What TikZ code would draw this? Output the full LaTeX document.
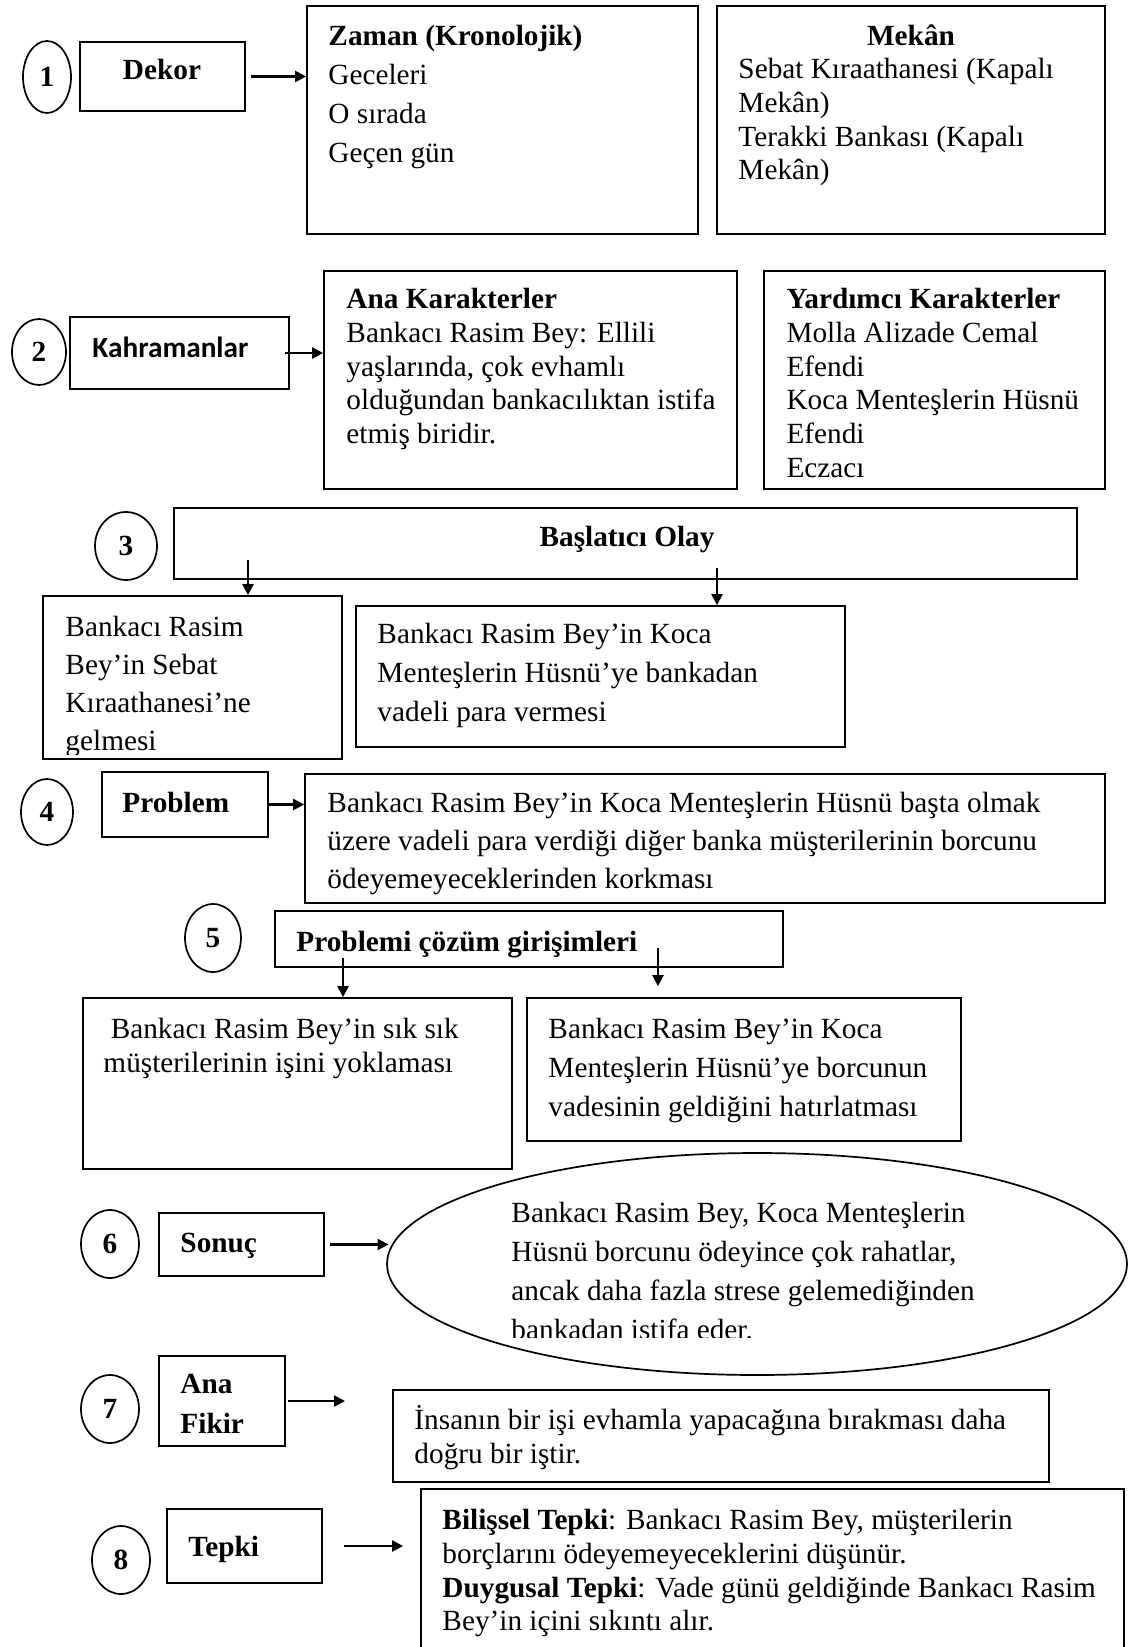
\documentclass[tikz,border=0pt]{standalone}
\usepackage{fontspec}
\setmainfont{Liberation Serif}
\newfontfamily\calfont{Carlito}
\usetikzlibrary{arrows.meta, positioning, shapes.geometric, fit}

\newcommand{\pxl}[1]{#1*0.41pt}

\begin{document}
\begin{tikzpicture}[x=0.41pt, y=-0.41pt,
  box/.style={draw, line width=0.7pt, rectangle, inner sep=0pt},
  numc/.style={draw, ellipse, line width=0.7pt, inner sep=0pt, font=\bfseries\fontsize{12}{14}\selectfont},
  txt/.style={anchor=north west, inner sep=0pt, align=left, font=\fontsize{12}{15.9}\selectfont,
    execute at begin node={\rule{0pt}{11pt}}},
  head/.style={anchor=base, inner sep=0pt, font=\bfseries\fontsize{12}{15.9}\selectfont},
  arr/.style={-{Triangle[length=4.5pt,width=4.5pt]}, line width=0.9pt}]
\useasboundingbox (0,0) rectangle (1129,1647);

% 1 Dekor
\node[numc, minimum width=\pxl{48}, minimum height=\pxl{72}] (n1) at (47,77) {1};
\node[box, fit={(80,42) (245,111)}] (dekor) {};
\node[head] (dekortxt) at (162,80) {Dekor};
\node[box, fit={(307,6) (698,234)}] (zaman) {};
\node[txt] (zamantxt) at (328,25) {\textbf{Zaman (Kronolojik)}\\Geceleri\\O sırada\\Geçen gün};
\node[box, fit={(717,6) (1105,234)}] (mekan) {};
\node[head] (mekanhead) at (911,46) {Mekân};
\node[txt, font=\fontsize{12}{13.8}\selectfont] (mekantxt) at (738,58) {Sebat Kıraathanesi (Kapalı\\Mekân)\\Terakki Bankası (Kapalı\\Mekân)};
\draw[arr] ([xshift=2pt]dekor.east) -- (dekor.east -| zaman.west);

% 2 Kahramanlar
\node[numc, minimum width=\pxl{54}, minimum height=\pxl{66}] (n2) at (39,352) {2};
\node[box, fit={(70,317) (289,389)}] (kahr) {};
\node[anchor=base west, inner sep=0pt, font=\calfont\bfseries\fontsize{12}{14}\selectfont] (kahrtxt) at (92,358) {Kahramanlar};
\node[box, fit={(324,271) (737,489)}] (ana) {};
\node[txt, font=\fontsize{12}{13.8}\selectfont] (anatxt) at (346,288) {\textbf{Ana Karakterler}\\Bankacı Rasim Bey: Ellili\\yaşlarında, çok evhamlı\\olduğundan bankacılıktan istifa\\etmiş biridir.};
\node[box, fit={(764,271) (1105,489)}] (yard) {};
\node[txt, font=\fontsize{12}{13.8}\selectfont] (yardtxt) at (786,288) {\textbf{Yardımcı Karakterler}\\Molla Alizade Cemal\\Efendi\\Koca Menteşlerin Hüsnü\\Efendi\\Eczacı};
\draw[arr] ([xshift=-2pt]kahr.east) -- (kahr.east -| ana.west);

% 3 Baslatici olay
\node[numc, minimum width=\pxl{62}, minimum height=\pxl{68}] (n3) at (126,546) {3};
\node[box, fit={(174,508) (1077,579)}] (olay) {};
\node[head] (olaytxt) at (627,546) {Başlatıcı Olay};
\node[box, fit={(43,596) (342,759)}] (olay1) {};
\begin{scope}
\clip (43,596) rectangle (342,754);
\node[txt, font=\fontsize{12}{15.6}\selectfont] (olay1txt) at (65,616) {Bankacı Rasim\\Bey’in Sebat\\Kıraathanesi’ne\\gelmesi};
\end{scope}
\node[box, fit={(356,606) (845,747)}] (olay2) {};
\node[txt] (olay2txt) at (377,623) {Bankacı Rasim Bey’in Koca\\Menteşlerin Hüsnü’ye bankadan\\vadeli para vermesi};
\coordinate (o1) at (248,560);
\coordinate (o2) at (717,568);
\draw[arr] (o1) -- (o1 |- olay1.north);
\draw[arr] (o2) -- (o2 |- olay2.north);

% 4 Problem
\node[numc, minimum width=\pxl{52}, minimum height=\pxl{66}] (n4) at (47,812) {4};
\node[box, fit={(102,772) (268,837)}] (prob) {};
\node[head, anchor=base west] (probtxt) at (122,812) {Problem};
\node[box, fit={(305,774) (1105,903)}] (korku) {};
\node[txt, font=\fontsize{12}{15.6}\selectfont] (korkutxt) at (327,792) {Bankacı Rasim Bey’in Koca Menteşlerin Hüsnü başta olmak\\üzere vadeli para verdiği diğer banka müşterilerinin borcunu\\ödeyemeyeceklerinden korkması};
\draw[arr] (prob.east) -- (prob.east -| korku.west);

% 5 Cozum girisimleri
\node[numc, minimum width=\pxl{56}, minimum height=\pxl{68}] (n5) at (213,938) {5};
\node[box, fit={(275,911) (783,967)}] (coz) {};
\node[head, anchor=base west] (coztxt) at (296,951) {Problemi çözüm girişimleri};
\node[box, fit={(83,998) (512,1169)}] (coz1) {};
\node[txt, font=\fontsize{12}{13.9}\selectfont] (coz1txt) at (103,1018) {\ Bankacı Rasim Bey’in sık sık\\müşterilerinin işini yoklaması};
\node[box, fit={(527,998) (961,1141)}] (coz2) {};
\node[txt] (coz2txt) at (548,1018) {Bankacı Rasim Bey’in Koca\\Menteşlerin Hüsnü’ye borcunun\\vadesinin geldiğini hatırlatması};
\coordinate (c1) at (343,958);
\coordinate (c2) at (658,948);
\draw[arr] (c1) -- (c1 |- coz1.north);
\draw[arr] (c2) -- ([yshift=4.5pt]c2 |- coz2.north);

% 6 Sonuc
\node[numc, minimum width=\pxl{58}, minimum height=\pxl{68}] (n6) at (110,1244) {6};
\node[box, fit={(159,1213) (324,1276)}] (sonuc) {};
\node[head, anchor=base west] (sonuctxt) at (180,1252) {Sonuç};
\node[draw, ellipse, line width=0.7pt, inner sep=0pt, minimum width=\pxl{740}, minimum height=\pxl{222}] (res) at (757,1264) {};
\begin{scope}
\clip (0,1100) rectangle (1129,1337);
\node[txt] (restxt) at (511,1202) {Bankacı Rasim Bey, Koca Menteşlerin\\Hüsnü borcunu ödeyince çok rahatlar,\\ancak daha fazla strese gelemediğinden\\bankadan istifa eder.};
\end{scope}
\draw[arr] ([xshift=2pt]sonuc.east) -- ([xshift=1pt]sonuc.east -| res.west);

% 7 Ana fikir
\node[numc, minimum width=\pxl{58}, minimum height=\pxl{68}] (n7) at (110,1409) {7};
\node[box, fit={(159,1356) (285,1446)}] (fikir) {};
\node[txt, font=\bfseries\fontsize{12}{16.4}\selectfont] (fikirtxt) at (180,1374) {Ana\\Fikir};
\coordinate (f7) at (345,1401);
\draw[arr] ([xshift=1pt]fikir.east) -- (f7);
\node[box, fit={(393,1390) (1049,1482)}] (fikirbox) {};
\node[txt, font=\fontsize{12}{14}\selectfont] (fikirboxtxt) at (414,1405) {İnsanın bir işi evhamla yapacağına bırakması daha\\doğru bir iştir.};

% 8 Tepki
\node[numc, minimum width=\pxl{58}, minimum height=\pxl{68}] (n8) at (121,1560) {8};
\node[box, fit={(167,1509) (322,1583)}] (tepki) {};
\node[head, anchor=base west] (tepkitxt) at (188,1556) {Tepki};
\node[box, fit={(421,1489) (1124,1690)}] (tepkibox) {};
\node[txt, font=\fontsize{12}{13.8}\selectfont] (tepkiboxtxt) at (442,1509) {\textbf{Bilişsel Tepki}: Bankacı Rasim Bey, müşterilerin\\borçlarını ödeyemeyeceklerini düşünür.\\\textbf{Duygusal Tepki}: Vade günü geldiğinde Bankacı Rasim\\Bey’in içini sıkıntı alır.};
\draw[arr] ([xshift=8.6pt]tepki.east) -- ([xshift=-7pt]tepki.east -| tepkibox.west);
\end{tikzpicture}
\end{document}
